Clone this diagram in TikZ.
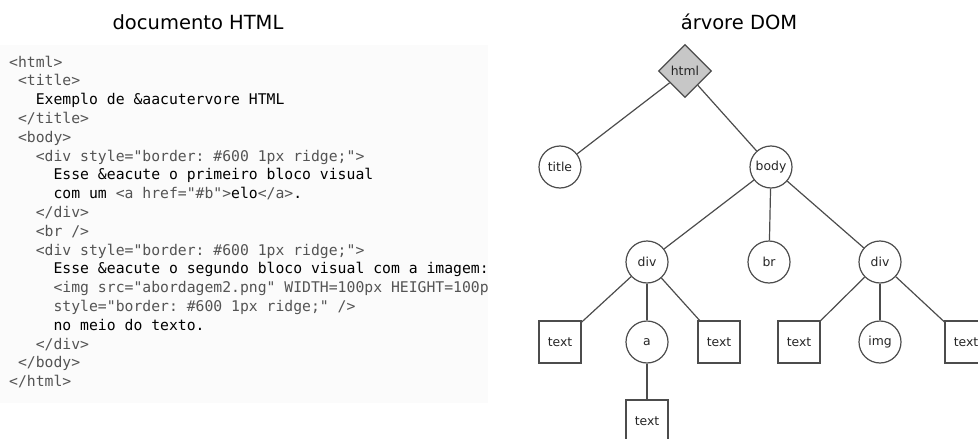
\documentclass[tikz,border=0pt]{standalone}
\usepackage{fontspec}
\setmainfont{DejaVu Sans}
\setmonofont{DejaVu Sans Mono}
\usetikzlibrary{shapes.geometric}

\definecolor{tagcol}{gray}{0.33}
\definecolor{codebg}{gray}{0.985}
\definecolor{linecol}{gray}{0.30}
\definecolor{rootfill}{gray}{0.78}

% tags in the listing are greyed out
\newcommand{\tg}[1]{\textcolor{tagcol}{#1}}

\tikzset{
  heading/.style={font=\fontsize{19.5}{23}\selectfont, anchor=base},
  codeline/.style={font=\ttfamily\fontsize{14.75}{18.8}\selectfont, anchor=base west, inner sep=0pt},
  elem/.style={circle, draw=linecol, line width=1.2pt, fill=white, minimum size=42pt, inner sep=0pt,
    font=\fontsize{12.4}{14}\selectfont, text=black!85},
  leaf/.style={elem, rectangle},
  root/.style={elem, diamond, fill=rootfill, minimum size=53pt},
  edge/.style={draw=linecol, line width=1.2pt}
}

\begin{document}
\begin{tikzpicture}[x=1pt,y=-1pt]
  \clip (0,0) rectangle (978,439);

  % left: the source listing
  \node[heading] (hsrc) at (198,29) {documento HTML};
  \begin{scope}
    \clip (0,45) rectangle (488,403);
    \fill[codebg] (0,45) rectangle (488,403);
    \foreach \lvl/\src [count=\n from 0] in {
        0/{\tg{<html>}},
        1/{\tg{<title>}},
        3/{Exemplo de \&aacutervore HTML},
        1/{\tg{</title>}},
        1/{\tg{<body>}},
        3/{\tg{<div style="border: \#600 1px ridge;">}},
        5/{Esse \&eacute o primeiro bloco visual},
        5/{com um \tg{<a href="\#b">}elo\tg{</a>}.},
        3/{\tg{</div>}},
        3/{\tg{<br />}},
        3/{\tg{<div style="border: \#600 1px ridge;">}},
        5/{Esse \&eacute o segundo bloco visual com a imagem:},
        5/{\tg{<img src="abordagem2.png" WIDTH=100px HEIGHT=100px}},
        5/{\tg{style="border: \#600 1px ridge;" />}},
        5/{no meio do texto.},
        3/{\tg{</div>}},
        1/{\tg{</body>}},
        0/{\tg{</html>}}}
      \node[codeline] (line\n) at ({9+\lvl*8.88},{67+\n*18.8}) {\src};
  \end{scope}

  % right: the tree
  \node[heading] (htree) at (739,29) {árvore DOM};

  \node[root] (html) at (685,71) {html};
  \node[elem] (title) at (560,167) {title};
  \node[elem] (body) at (771,167) {body};
  \node[elem] (div1) at (647,262) {div};
  \node[elem] (br) at (769,262) {br};
  \node[elem] (div2) at (880,262) {div};
  \node[leaf] (txt1) at (560,342) {text};
  \node[elem] (a) at (647,342) {a};
  \node[leaf] (txt2) at (719,342) {text};
  \node[leaf] (txt3) at (799,342) {text};
  \node[elem] (img) at (880,342) {img};
  \node[leaf] (txt4) at (966,342) {text};
  \node[leaf] (txt5) at (647,421) {text};

  \foreach \p/\c in {html/title, html/body, body/div1, body/br, body/div2,
      div1/txt1, div1/a, div1/txt2, a/txt5, div2/txt3, div2/img, div2/txt4}
    \draw[edge] (\p) -- (\c);
\end{tikzpicture}
\end{document}
